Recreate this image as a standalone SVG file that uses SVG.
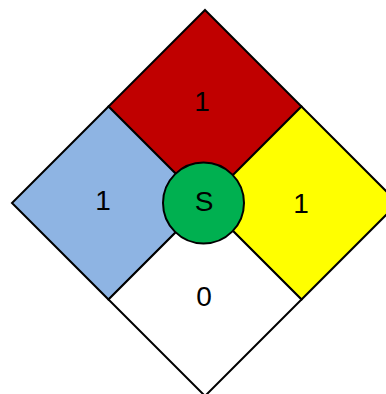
<svg xmlns="http://www.w3.org/2000/svg" width="386" height="394" viewBox="0 0 386 394">
<style>
.q{stroke:#000;stroke-width:2;stroke-linejoin:miter}
.t{font-family:"Liberation Sans",Arial,sans-serif;font-size:28px;fill:#000;text-anchor:middle}
</style>
<rect width="386" height="394" fill="#fff"/>
<g id="flammability"><polygon class="q" fill="#C00000" points="205,10 301.5,106.5 205,203 108.5,106.5"/><text class="t" x="202" y="111">1</text></g>
<g id="health"><polygon class="q" fill="#8EB4E3" points="108.5,106.5 205,203 108.5,299.5 12,203"/><text class="t" x="103" y="210">1</text></g>
<g id="instability"><polygon class="q" fill="#FFFF00" points="301.5,106.5 398,203 301.5,299.5 205,203"/><text class="t" x="301" y="212.5">1</text></g>
<g id="special"><polygon class="q" fill="#FFFFFF" points="205,203 301.5,299.5 205,396 108.5,299.5"/><text class="t" x="204" y="305.5">0</text></g>
<g id="center"><circle class="q" fill="#00B050" cx="203.5" cy="203" r="40.5"/><text class="t" x="204" y="211">S</text></g>
<g id="connectors"></g>
</svg>
